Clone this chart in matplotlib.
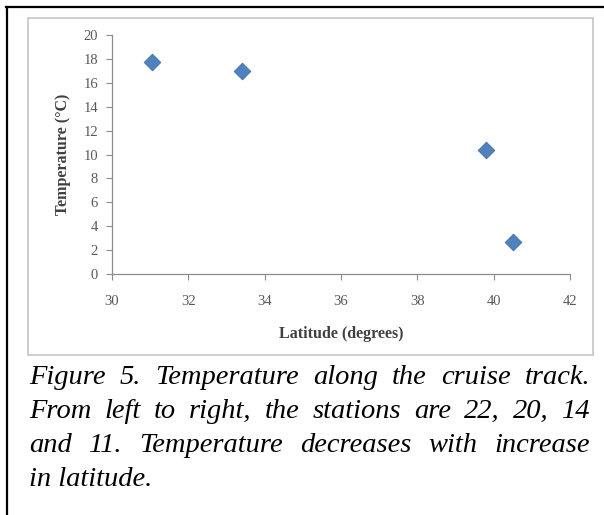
import matplotlib
matplotlib.use("Agg")
import matplotlib.pyplot as plt
from matplotlib.patches import Rectangle
from matplotlib.lines import Line2D

# stations 22, 20, 14, 11 (left to right)
latitude = [31.05, 33.4, 39.8, 40.5]
temperature = [17.7, 16.95, 10.4, 2.7]
x_ticks = [30, 32, 34, 36, 38, 40, 42]
y_ticks = [0, 2, 4, 6, 8, 10, 12, 14, 16, 18, 20]

caption_lines = [
    "Figure 5. Temperature along the cruise track.",
    "From left to right, the stations are 22, 20, 14",
    "and 11. Temperature decreases with increase",
    "in latitude.",
]

W, H = 604, 515
fig = plt.figure(figsize=(W / 100, H / 100), dpi=100)
fig.patch.set_facecolor("white")

def fx(px):
    return px / W

def fy(py):
    return 1 - py / H

# outer page frame (top and left only)
fig.add_artist(Line2D([fx(6), fx(604)], [fy(7), fy(7)], color="black", lw=1.6))
fig.add_artist(Line2D([fx(7), fx(7)], [fy(7), fy(515)], color="black", lw=1.6))

# chart area border
fig.add_artist(Rectangle((fx(28), fy(355)), fx(593) - fx(28), fy(18) - fy(355),
                         facecolor="white", edgecolor="#c9c9c9", lw=1.3, zorder=0))

ax = fig.add_axes([fx(112), fy(274), fx(570) - fx(112), fy(35) - fy(274)])
ax.set_facecolor("none")
ax.scatter(latitude, temperature, marker="D", s=72, color="#4f81bd",
           edgecolor="#3f6fa8", linewidth=0.6, zorder=3, clip_on=False)

ax.set_xlim(30, 42)
ax.set_ylim(0, 20)
ax.set_xticks(x_ticks)
ax.set_yticks(y_ticks)
for s in ["top", "right"]:
    ax.spines[s].set_visible(False)
for s in ["left", "bottom"]:
    ax.spines[s].set_color("#8c8c8c")
    ax.spines[s].set_linewidth(0.9)
ax.tick_params(direction="out", length=4, width=0.8, color="#8c8c8c",
               labelcolor="#595959", labelsize=10.5, pad=6)
ax.tick_params(axis="x", pad=11)
for lab in ax.get_xticklabels() + ax.get_yticklabels():
    lab.set_family("Liberation Serif")

ax.set_xlabel("Latitude (degrees)", family="Liberation Serif", fontweight="bold",
              fontsize=11.5, color="#404040", labelpad=13)
ax.set_ylabel("Temperature (°C)", family="Liberation Serif", fontweight="bold",
              fontsize=11.5, color="#404040", labelpad=9)

# justified italic caption
fig.canvas.draw()
r = fig.canvas.get_renderer()
left_px, right_px = 29, 590
baselines = [384, 418, 452, 486]
cap_font = dict(family="Liberation Serif", style="italic", fontsize=20.5, color="black")
for i, line in enumerate(caption_lines):
    y = fy(baselines[i])
    if i == len(caption_lines) - 1:
        fig.text(fx(left_px), y, line, va="baseline", ha="left", **cap_font)
        continue
    words = line.split(" ")
    texts = [fig.text(0, y, w, va="baseline", ha="left", **cap_font) for w in words]
    widths = [t.get_window_extent(r).width for t in texts]
    gap = (right_px - left_px - sum(widths)) / (len(words) - 1)
    x = left_px
    for t, w in zip(texts, widths):
        t.set_x(fx(x))
        x += w + gap

fig.savefig("out.png", dpi=100)
